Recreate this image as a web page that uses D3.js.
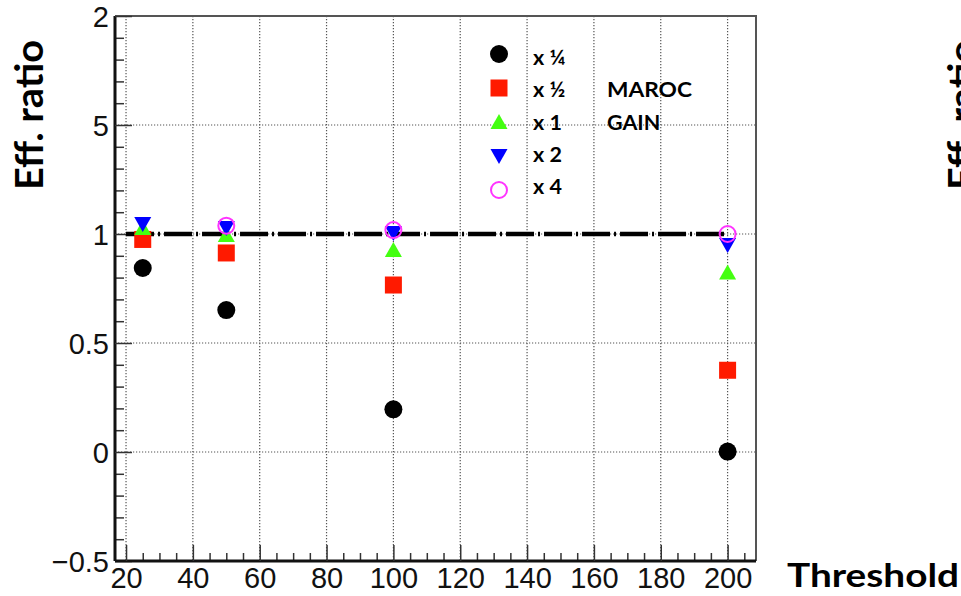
<!DOCTYPE html>
<html>
<head>
<meta charset="utf-8">
<script src="https://cdn.jsdelivr.net/npm/d3@7"></script>
<style>
  html, body { margin: 0; padding: 0; background: #fff; }
  svg { display: block; }
</style>
</head>
<body>
<svg id="chart" width="961" height="596"></svg>
<script>
// ---- data ----
const thresholds = [25, 50, 100, 200];
const gainQuarter = [0.844, 0.651, 0.196, 0.002];
const gainHalf    = [0.975, 0.913, 0.766, 0.375];
const gainOne     = [1.027, 0.995, 0.927, 0.823];
const gainTwo     = [1.046, 1.028, 1.005, 0.950];
const gainFour    = [null, 1.038, 1.018, 1.000];
const seriesLabels = ["x \u00BC", "x \u00BD", "x 1", "x 2", "x 4"];
const xTickValues = [20, 40, 60, 80, 100, 120, 140, 160, 180, 200];
const yTickValues = [-0.5, 0, 0.5, 1, 1.5, 2];
const yTickLabels = ["\u22120.5", "0", "0.5", "1", "5", "2"];
const refLevel = 1;
const refRange = [20, 200];

// ---- layout ----
const svg = d3.select("#chart");
const L = 115, R = 756, T = 16, B = 561;
const x = d3.scaleLinear().domain([16.7, 208.5]).range([L, R]);
const y = d3.scaleLinear().domain([-0.5, 2]).range([B, T]);
const boldFont = "Lato, Carlito, Calibri, sans-serif";
const tickFont = "Liberation Sans, Arial, sans-serif";

svg.append("rect").attr("width", 961).attr("height", 596).attr("fill", "#fff");

// grid
const grid = svg.append("g").attr("stroke", "#555").attr("stroke-width", 1.2)
  .attr("stroke-dasharray", "1.2,1.8");
grid.selectAll("line.v").data(xTickValues).join("line")
  .attr("x1", d => x(d)).attr("x2", d => x(d)).attr("y1", T).attr("y2", B);
grid.selectAll("line.h").data(yTickValues.filter(v => v > -0.5 && v < 2)).join("line")
  .attr("x1", L).attr("x2", R).attr("y1", d => y(d)).attr("y2", d => y(d));

// frame top/right
svg.append("path").attr("d", `M${L},${T}H${R}V${B}`).attr("fill", "none")
  .attr("stroke", "#555").attr("stroke-width", 2);

// minor ticks
const yMinor = d3.range(-0.5, 2.0001, 0.1).filter(v => Math.abs(v*2 - Math.round(v*2)) > 1e-6);
const xMinor = d3.range(20, 210, 5).filter(v => v % 20 !== 0);
svg.append("g").attr("transform", `translate(${L},0)`)
  .call(d3.axisLeft(y).tickValues(yMinor).tickSize(-9).tickFormat(""))
  .call(g => g.select(".domain").remove())
  .selectAll("line").attr("stroke", "#333").attr("stroke-width", 1.5);
svg.append("g").attr("transform", `translate(0,${B})`)
  .call(d3.axisBottom(x).tickValues(xMinor).tickSize(-8).tickFormat(""))
  .call(g => g.select(".domain").remove())
  .selectAll("line").attr("stroke", "#333").attr("stroke-width", 1.5);

// major axes
const yAxis = svg.append("g").attr("transform", `translate(${L},0)`)
  .call(d3.axisLeft(y).tickValues(yTickValues).tickSize(-17).tickPadding(6)
    .tickFormat((d, i) => yTickLabels[i]));
yAxis.select(".domain").attr("d", `M0,${T}V${B}`).attr("stroke", "#111").attr("stroke-width", 3);
yAxis.selectAll("line").attr("stroke", "#333").attr("stroke-width", 1.5);
yAxis.selectAll("text").attr("font-family", tickFont)
  .attr("font-size", 29).attr("fill", "#111").attr("dy", "0.36em");

const xAxis = svg.append("g").attr("transform", `translate(0,${B})`)
  .call(d3.axisBottom(x).tickValues(xTickValues).tickSize(-16).tickPadding(9));
xAxis.select(".domain").attr("d", `M${L},0H${R}`).attr("stroke", "#111").attr("stroke-width", 3);
xAxis.selectAll("line").attr("stroke", "#333").attr("stroke-width", 1.5);
xAxis.selectAll("text").attr("font-family", tickFont)
  .attr("font-size", 29).attr("fill", "#111").attr("dy", "0.62em");

// reference dash-dot line
svg.append("line")
  .attr("x1", x(refRange[0])).attr("x2", x(refRange[1]))
  .attr("y1", y(refLevel)).attr("y2", y(refLevel))
  .attr("stroke", "#000").attr("stroke-width", 4.5)
  .attr("stroke-dasharray", "28,4,2,4");

// markers
const series = [
  { vals: gainQuarter, type: "circle", color: "#000" },
  { vals: gainHalf, type: "square", color: "#ff1a00" },
  { vals: gainOne, type: "up", color: "#44ff11" },
  { vals: gainTwo, type: "down", color: "#0000ff" },
  { vals: gainFour, type: "open", color: "#ff33ff" }
];
function drawMarker(g, type, color, cx, cy) {
  if (type === "circle") {
    g.append("circle").attr("cx", cx).attr("cy", cy).attr("r", 9).attr("fill", color);
  } else if (type === "square") {
    g.append("rect").attr("x", cx - 8.5).attr("y", cy - 8.5).attr("width", 17).attr("height", 17).attr("fill", color);
  } else if (type === "up") {
    g.append("path").attr("d", `M${cx},${cy-8}L${cx+8.5},${cy+7}L${cx-8.5},${cy+7}Z`).attr("fill", color);
  } else if (type === "down") {
    g.append("path").attr("d", `M${cx},${cy+8}L${cx+8.5},${cy-7}L${cx-8.5},${cy-7}Z`).attr("fill", color);
  } else {
    g.append("circle").attr("cx", cx).attr("cy", cy).attr("r", 8).attr("fill", "none")
      .attr("stroke", color).attr("stroke-width", 2);
  }
}
const mk = svg.append("g");
series.forEach(s => {
  s.vals.forEach((v, i) => {
    if (v === null) return;
    drawMarker(mk, s.type, s.color, x(thresholds[i]), y(v));
  });
});

// legend
const lg = svg.append("g");
series.forEach((s, i) => {
  drawMarker(lg, s.type, s.color, 499, 54 + i * 34);
  lg.append("text").attr("x", 533).attr("y", 65 + i * 32.3)
    .attr("font-family", boldFont).attr("font-weight", "bold")
    .attr("font-size", 21.5).attr("fill", "#000").text(seriesLabels[i]);
});
lg.append("text").attr("x", 607).attr("y", 97)
  .attr("font-family", boldFont).attr("font-weight", "bold")
  .attr("font-size", 21.5).attr("textLength", 85).attr("lengthAdjust", "spacingAndGlyphs").text("MAROC");
lg.append("text").attr("x", 607).attr("y", 130)
  .attr("font-family", boldFont).attr("font-weight", "bold")
  .attr("font-size", 21.5).text("GAIN");

// axis titles
svg.append("text").attr("transform", "translate(43,115) rotate(-90)")
  .attr("text-anchor", "middle")
  .attr("font-family", boldFont).attr("font-weight", "bold")
  .attr("font-size", 37.5).attr("textLength", 150).attr("lengthAdjust", "spacingAndGlyphs")
  .text("Eff. ratio");
svg.append("text").attr("transform", "translate(976,115) rotate(-90)")
  .attr("text-anchor", "middle")
  .attr("font-family", boldFont).attr("font-weight", "bold")
  .attr("font-size", 37.5).attr("textLength", 150).attr("lengthAdjust", "spacingAndGlyphs")
  .text("Eff. ratio");
svg.append("text").attr("x", 787).attr("y", 587)
  .attr("font-family", boldFont).attr("font-weight", "bold")
  .attr("font-size", 33).attr("textLength", 172).attr("lengthAdjust", "spacingAndGlyphs")
  .text("Threshold");
</script>
</body>
</html>
